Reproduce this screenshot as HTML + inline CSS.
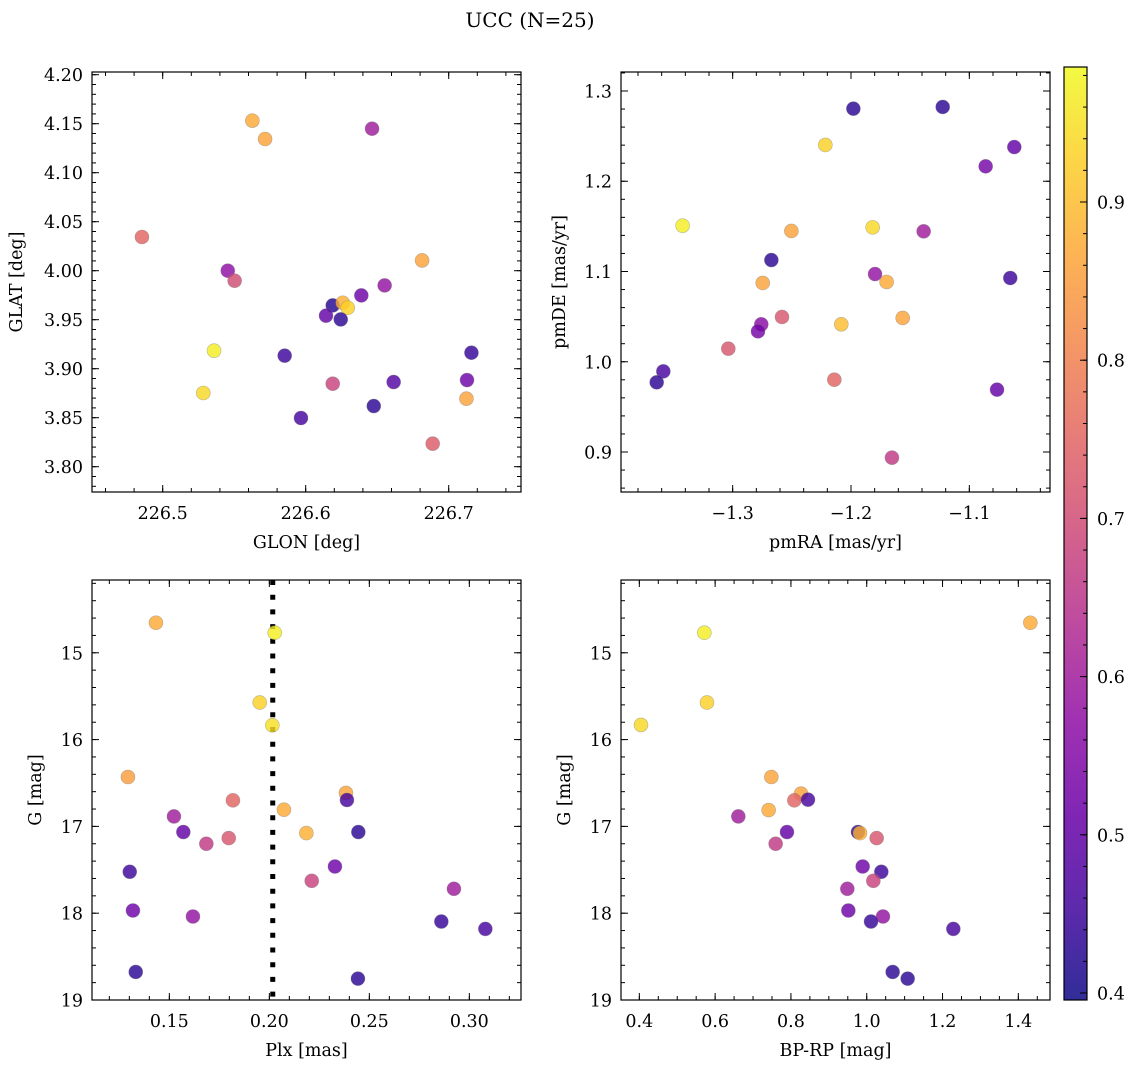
<!DOCTYPE html>
<html><head><meta charset="utf-8"><title>UCC (N=25)</title>
<style>
html,body{margin:0;padding:0;background:#fff;}
svg{display:block;font-family:"DejaVu Serif","Liberation Serif",serif;}
</style></head>
<body>
<svg id="fig" width="1136" height="1067" viewBox="0 0 1136 1067" xmlns="http://www.w3.org/2000/svg">
<defs>
<linearGradient id="plasma" x1="0" y1="1" x2="0" y2="0"></linearGradient>
</defs>
<text x="530" y="27" text-anchor="middle" font-size="20">UCC (N=25)</text>
</svg>
<script>
// Panel A: GLON vs GLAT
const glon = [226.5627,226.5716,226.6464,226.4855,226.5455,226.5503,226.6814,226.6552,226.6389,226.6189,226.6259,226.6294,226.6142,226.6245,226.5359,226.5853,226.5284,226.7159,226.7128,226.7124,226.6189,226.6615,226.6476,226.5967,226.6888];
const glat = [4.1531,4.1344,4.1449,4.0344,4.0000,3.9898,4.0105,3.9850,3.9748,3.9646,3.9673,3.9622,3.9541,3.9503,3.9184,3.9133,3.8752,3.9163,3.8884,3.8694,3.8847,3.8864,3.8619,3.8497,3.8235];
const probA = [0.87,0.86,0.60,0.75,0.57,0.70,0.86,0.58,0.52,0.42,0.88,0.93,0.50,0.43,0.97,0.45,0.94,0.44,0.52,0.86,0.68,0.48,0.43,0.46,0.73];
// Panel B: pmRA vs pmDE
const pmra = [-1.198,-1.1225,-1.2217,-1.062,-1.0862,-1.3423,-1.2504,-1.1817,-1.1386,-1.2673,-1.1797,-1.2746,-1.1699,-1.0654,-1.2583,-1.1563,-1.2082,-1.2758,-1.2786,-1.3037,-1.3586,-1.3642,-1.2141,-1.0766,-1.1654];
const pmde = [1.2804,1.2823,1.2402,1.2379,1.2165,1.1508,1.1449,1.1489,1.1445,1.1127,1.0972,1.0873,1.0884,1.0928,1.0496,1.0485,1.0415,1.0415,1.0337,1.0145,0.9894,0.9772,0.9801,0.9691,0.8937];
const probB = [0.43,0.43,0.93,0.50,0.53,0.97,0.86,0.94,0.60,0.43,0.58,0.86,0.87,0.45,0.72,0.86,0.90,0.56,0.53,0.72,0.46,0.43,0.75,0.50,0.66];
// Panel C: Plx vs G
const plx = [0.1433,0.2027,0.1952,0.2015,0.1293,0.1818,0.2383,0.2388,0.2073,0.1523,0.157,0.2185,0.2445,0.1797,0.1685,0.1302,0.2328,0.2212,0.2923,0.1318,0.1618,0.286,0.308,0.1332,0.2443];
const gmagC = [14.654,14.769,15.573,15.835,16.431,16.700,16.615,16.696,16.808,16.885,17.065,17.077,17.065,17.135,17.2,17.523,17.462,17.627,17.719,17.969,18.038,18.096,18.181,18.677,18.754];
const probC = [0.87,0.97,0.93,0.95,0.85,0.75,0.86,0.46,0.87,0.60,0.50,0.88,0.43,0.72,0.66,0.45,0.52,0.68,0.60,0.52,0.58,0.44,0.46,0.43,0.43];
const plxLine = [0.2017];
// Panel D: BP-RP vs G
const bprp = [1.4317,0.5715,0.5785,0.4044,0.7483,0.8266,0.809,0.845,0.7412,0.6612,0.7896,0.977,0.9822,1.0262,0.7597,0.9893,1.0385,1.0174,0.9488,0.9515,1.0429,1.0113,1.2285,1.0684,1.108];
const gmagD = [14.654,14.769,15.573,15.831,16.431,16.623,16.7,16.692,16.812,16.885,17.065,17.065,17.077,17.135,17.2,17.462,17.523,17.627,17.719,17.969,18.038,18.096,18.181,18.677,18.754];
const probD = [0.87,0.97,0.93,0.94,0.86,0.86,0.75,0.46,0.87,0.60,0.50,0.43,0.88,0.72,0.66,0.52,0.45,0.68,0.60,0.52,0.58,0.44,0.46,0.43,0.43];
// tick labels
const ticksA_x = ["226.5","226.6","226.7"];
const ticksA_y = ["3.80","3.85","3.90","3.95","4.00","4.05","4.10","4.15","4.20"];
const ticksB_x = ["\u22121.3","\u22121.2","\u22121.1"];
const ticksB_y = ["0.9","1.0","1.1","1.2","1.3"];
const ticksC_x = ["0.15","0.20","0.25","0.30"];
const ticksG_y = ["15","16","17","18","19"];
const ticksD_x = ["0.4","0.6","0.8","1.0","1.2","1.4"];
const ticksCbar = ["0.4","0.5","0.6","0.7","0.8","0.9"];

const NS = "http://www.w3.org/2000/svg";
const svg = document.getElementById('fig');
const FS = 17.5;
const VMIN = 0.39558, VMAX = 0.98534;
const plasmaStops = [[0,'#0d0887'],[0.1,'#41049d'],[0.2,'#6a00a8'],[0.3,'#8f0da4'],[0.4,'#b12a90'],[0.5,'#cc4778'],[0.6,'#e16462'],[0.7,'#f2844b'],[0.8,'#fca636'],[0.9,'#fcce25'],[1,'#f0f921']];
function hex(h){return [parseInt(h.substr(1,2),16),parseInt(h.substr(3,2),16),parseInt(h.substr(5,2),16)];}
function plasma(v){
  let t=(v-VMIN)/(VMAX-VMIN); t=Math.max(0,Math.min(1,t));
  for(let i=0;i<plasmaStops.length-1;i++){
    const [a,ca]=plasmaStops[i],[b,cb]=plasmaStops[i+1];
    if(t<=b){const f=(t-a)/(b-a);const A=hex(ca),B=hex(cb);
      return 'rgb('+A.map((x,k)=>Math.round(x+(B[k]-x)*f)).join(',')+')';}
  }
  return '#f0f921';
}
function mk(tag,attrs,parent){const e=document.createElementNS(NS,tag);for(const k in attrs)e.setAttribute(k,attrs[k]);(parent||svg).appendChild(e);return e;}

function panel(c){
  const g=mk('g',{});
  
  
  const sx=v=>c.x0+(v-c.xmin)/(c.xmax-c.xmin)*c.w;
  const sy=c.invert ? (v=>c.y0+(v-c.ymin)/(c.ymax-c.ymin)*c.h) : (v=>c.y0+c.h-(v-c.ymin)/(c.ymax-c.ymin)*c.h);
  const tg=mk('g',{stroke:'#000','stroke-width':1},g);
  const eps=1e-9;
  const start=(mn,st)=>Math.ceil((mn-eps)/st)*st;
  for(let v=start(c.xmin,c.xMin);v<=c.xmax+eps;v+=c.xMin){const x=sx(v);
    mk('line',{x1:x,x2:x,y1:c.y0+c.h,y2:c.y0+c.h-4},tg);mk('line',{x1:x,x2:x,y1:c.y0,y2:c.y0+4},tg);}
  for(let v=start(c.ymin,c.yMin);v<=c.ymax+eps;v+=c.yMin){const y=sy(v);
    mk('line',{x1:c.x0,x2:c.x0+4,y1:y,y2:y},tg);mk('line',{x1:c.x0+c.w,x2:c.x0+c.w-4,y1:y,y2:y},tg);}
  c.xTicks.forEach((lab,i)=>{const v=c.xMajStart+i*c.xMaj;const x=sx(v);
    mk('line',{x1:x,x2:x,y1:c.y0+c.h,y2:c.y0+c.h-7},tg);mk('line',{x1:x,x2:x,y1:c.y0,y2:c.y0+7},tg);
    const t=mk('text',{x:x,y:c.y0+c.h+27,'text-anchor':'middle','font-size':FS},g);t.textContent=lab;
    
    });
  c.yTicks.forEach((lab,i)=>{const v=c.yMajStart+i*c.yMaj;const y=sy(v);
    mk('line',{x1:c.x0,x2:c.x0+7,y1:y,y2:y},tg);mk('line',{x1:c.x0+c.w,x2:c.x0+c.w-7,y1:y,y2:y},tg);
    const t=mk('text',{x:c.x0-9,y:y+6.5,'text-anchor':'end','font-size':FS},g);t.textContent=lab;
    
    });
  if(c.vline){c.vline.forEach(v=>{const l=mk('line',{x1:sx(v),x2:sx(v),y1:c.y0,y2:c.y0+c.h,stroke:'#000','stroke-width':5,'stroke-dasharray':'5 9.7'},g);
    
    });}
  c.xs.forEach((xv,i)=>{const p=mk('circle',{cx:sx(xv),cy:sy(c.ys[i]),r:7,fill:plasma(c.cs[i]),'fill-opacity':0.82,stroke:'#777','stroke-opacity':0.5,'stroke-width':0.6},g);
    
    });
  const fr=mk('rect',{x:c.x0,y:c.y0,width:c.w,height:c.h,fill:'none',stroke:'#000','stroke-width':1.2},g);
  
  
  const xl=mk('text',{x:c.x0+c.w/2,y:c.y0+c.h+56,'text-anchor':'middle','font-size':FS},g);xl.textContent=c.xlabel;
  
  
  const yl=mk('text',{x:0,y:0,'text-anchor':'middle','font-size':FS,transform:'translate('+c.ylx+','+(c.y0+c.h/2)+') rotate(-90)'},g);yl.textContent=c.ylabel;
  
  
}

panel({name:'panel-glon-glat',x0:92,y0:72,w:429,h:420,xmin:226.45056,xmax:226.75056,ymin:3.77418,ymax:4.20276,invert:false,
  xMin:0.02,yMin:0.01,xMaj:0.1,xMajStart:226.5,xTicks:ticksA_x,yMaj:0.05,yMajStart:3.80,yTicks:ticksA_y,
  xs:glon,ys:glat,cs:probA,xlabel:'GLON [deg]',ylabel:'GLAT [deg]',ylx:22});
panel({name:'panel-pmra-pmde',x0:621,y0:72,w:429,h:420,xmin:-1.39437,xmax:-1.03183,ymin:0.85568,ymax:1.32105,invert:false,
  xMin:0.02,yMin:0.02,xMaj:0.1,xMajStart:-1.3,xTicks:ticksB_x,yMaj:0.1,yMajStart:0.9,yTicks:ticksB_y,
  xs:pmra,ys:pmde,cs:probB,xlabel:'pmRA [mas/yr]',ylabel:'pmDE [mas/yr]',ylx:565});
panel({name:'panel-plx-g',x0:92,y0:580,w:429,h:420,xmin:0.11133,xmax:0.32583,ymin:14.1615,ymax:19.0,invert:true,
  xMin:0.01,yMin:0.2,xMaj:0.05,xMajStart:0.15,xTicks:ticksC_x,yMaj:1,yMajStart:15,yTicks:ticksG_y,
  xs:plx,ys:gmagC,cs:probC,vline:plxLine,xlabel:'Plx [mas]',ylabel:'G [mag]',ylx:41});
panel({name:'panel-bprp-g',x0:621,y0:580,w:429,h:420,xmin:0.35163,xmax:1.48356,ymin:14.1615,ymax:19.0,invert:true,
  xMin:0.05,yMin:0.2,xMaj:0.2,xMajStart:0.4,xTicks:ticksD_x,yMaj:1,yMajStart:15,yTicks:ticksG_y,
  xs:bprp,ys:gmagD,cs:probD,xlabel:'BP-RP [mag]',ylabel:'G [mag]',ylx:570});

const grad=document.getElementById('plasma');
plasmaStops.forEach(([o,col])=>{mk('stop',{offset:o,'stop-color':col,'stop-opacity':0.85},grad);});
const cb=mk('g',{});


const cbx=1064,cby=67,cbw=23,cbh=933;
mk('rect',{x:cbx,y:cby,width:cbw,height:cbh,fill:'url(#plasma)'},cb);
const cy=v=>cby+cbh-(v-VMIN)/(VMAX-VMIN)*cbh;
for(let v=0.40;v<=VMAX+1e-9;v+=0.02){const y=cy(v);mk('line',{x1:cbx+cbw,x2:cbx+cbw-4,y1:y,y2:y,stroke:'#000'},cb);}
ticksCbar.forEach((lab,i)=>{const v=0.4+i*0.1;const y=cy(v);
  mk('line',{x1:cbx+cbw,x2:cbx+cbw-7,y1:y,y2:y,stroke:'#000'},cb);
  const t=mk('text',{x:cbx+cbw+10,y:y+6.5,'font-size':FS},cb);t.textContent=lab;
  
  });
mk('rect',{x:cbx,y:cby,width:cbw,height:cbh,fill:'none',stroke:'#000','stroke-width':1.2},cb);
</script>
</body></html>
